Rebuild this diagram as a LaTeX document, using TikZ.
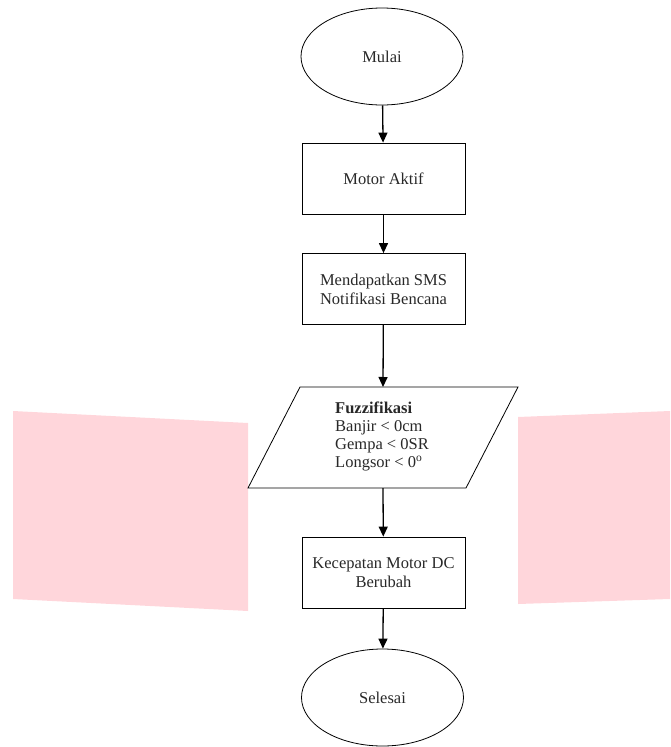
\documentclass[tikz,border=0pt]{standalone}
\usepackage{fontspec}
\setmainfont{Liberation Serif}
\usetikzlibrary{shapes.geometric,arrows.meta}
\begin{document}
\begin{tikzpicture}[x=1pt,y=-1pt,
  every node/.style={font=\fontsize{16.5}{19}\selectfont,text={rgb,255:red,40;green,40;blue,40}},
  term/.style={draw=black,ellipse,minimum width=162pt,minimum height=97pt,line width=0.8pt},
  proc/.style={draw=black,rectangle,minimum width=163pt,minimum height=71pt,align=center,line width=0.8pt},
  conn/.style={-{Triangle[length=10pt,width=9pt]},line width=1.3pt},
  pinkfill/.style={fill={rgb,255:red,255;green,214;blue,219},draw=none}]
\useasboundingbox (0,0) rectangle (670,747);
\fill[pinkfill] (13,411) -- (248,423) -- (248,611) -- (13,599) -- cycle;
\fill[pinkfill] (518,417) -- (670,411) -- (670,599) -- (518,604) -- cycle;
\node[term] (mulai) at (382,56.5) {Mulai};
\node[proc] (motor) at (383.5,178.5) {Motor Aktif};
\node[proc] (sms) at (383.5,289) {Mendapatkan SMS\\Notifikasi Bencana};
\draw[line width=0.8pt] (300,387) -- (518,387) -- (466,488) -- (248,488) -- cycle;
\coordinate (ptop) at (383,387);
\coordinate (pbot) at (383,488);
\node[anchor=north west,align=left,inner sep=0pt,font=\fontsize{16.5}{18}\selectfont] (fuzz) at (335,402) {\textbf{Fuzzifikasi}\\Banjir < 0cm\\Gempa < 0SR\\Longsor < 0\textsuperscript{o}};
\node[proc] (kec) at (383.5,572.5) {Kecepatan Motor DC\\Berubah};
\node[term] (selesai) at (382.5,697.5) {Selesai};
\draw[conn] (mulai) -- (motor);
\draw[conn] (motor) -- (sms);
\draw[conn] (sms) -- (ptop);
\draw[conn] (pbot) -- (kec);
\draw[conn] (kec) -- (selesai);
\end{tikzpicture}
\end{document}
